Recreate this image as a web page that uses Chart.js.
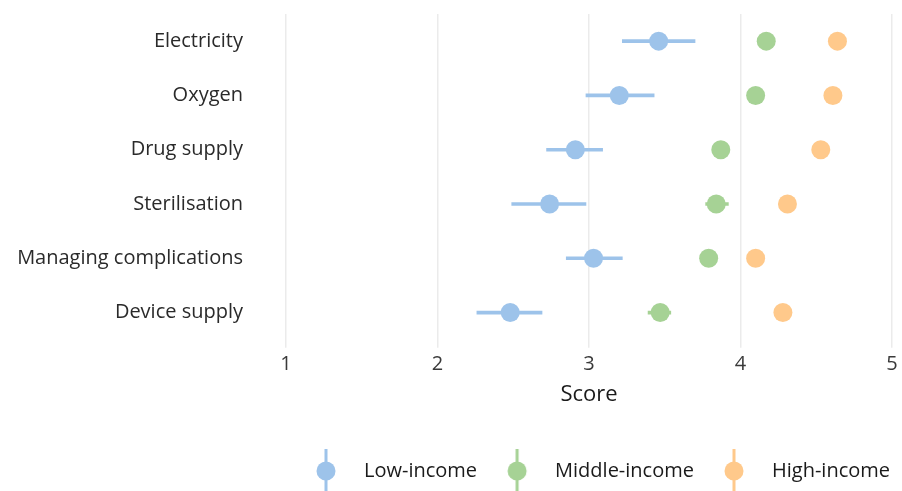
<!DOCTYPE html>
<html>
<head>
<meta charset="utf-8">
<script src="https://cdn.jsdelivr.net/npm/chart.js@4/dist/chart.umd.min.js"></script>
<style>
  html, body { margin: 0; padding: 0; background: #fff; }
  #wrap { width: 902px; height: 491px; }
</style>
</head>
<body>
<div id="wrap"><canvas id="c" width="902" height="491"></canvas></div>
<script>
// Facility domains (top to bottom)
const categories = ['Electricity', 'Oxygen', 'Drug supply', 'Sterilisation', 'Managing complications', 'Device supply'];

// Mean scores by income group
const lowIncome    = [3.46, 3.20, 2.91, 2.74, 3.03, 2.48];
const middleIncome = [4.17, 4.10, 3.87, 3.84, 3.79, 3.47];
const highIncome   = [4.64, 4.61, 4.53, 4.31, 4.10, 4.28];

// Confidence intervals (lower, upper); null where too narrow to show
const lowLower = [3.22, 2.98, 2.72, 2.49, 2.85, 2.26];
const lowUpper = [3.70, 3.43, 3.09, 2.98, 3.22, 2.69];
const midLower = [null, null, null, 3.77, null, 3.39];
const midUpper = [null, null, null, 3.92, null, 3.54];

const xTicks = [1, 2, 3, 4, 5];
const seriesNames = ['Low-income', 'Middle-income', 'High-income'];
const colors = ['#9dc3ea', '#a6d295', '#ffc98b'];

const FONT = '"Open Sans", "Noto Sans", sans-serif';

function ranges(lo, hi) {
  return lo.map((v, i) => (v == null || hi[i] == null) ? null : [v, hi[i]]);
}

// Legend glyph: a dot with a vertical interval line through it
function legendGlyph(color) {
  const c = document.createElement('canvas');
  c.width = 24; c.height = 44;
  const g = c.getContext('2d');
  g.fillStyle = color;
  g.fillRect(10.5, 0, 3, 44);
  g.beginPath();
  g.arc(12, 22, 9.5, 0, Math.PI * 2);
  g.fill();
  return c;
}
const glyphs = colors.map(legendGlyph);

const errorBar = (data, color) => ({
  type: 'bar',
  data: data,
  backgroundColor: color,
  borderWidth: 0,
  borderSkipped: false,
  barThickness: 3,
  grouped: false,
  indexAxis: 'y',
  xAxisID: 'x', yAxisID: 'y',
  order: 5,
  isInterval: true
});

const dots = (label, data, color) => ({
  type: 'line',
  label: label,
  data: data,
  showLine: false,
  indexAxis: 'y',
  xAxisID: 'x', yAxisID: 'y',
  pointRadius: 9.5,
  pointHoverRadius: 9.5,
  pointBackgroundColor: color,
  pointBorderWidth: 0,
  borderColor: color,
  backgroundColor: color,
  order: 1
});

new Chart(document.getElementById('c'), {
  data: {
    labels: categories,
    datasets: [
      errorBar(ranges(lowLower, lowUpper), colors[0]),
      errorBar(ranges(midLower, midUpper), colors[1]),
      dots(seriesNames[0], lowIncome, colors[0]),
      dots(seriesNames[1], middleIncome, colors[1]),
      dots(seriesNames[2], highIncome, colors[2])
    ]
  },
  options: {
    indexAxis: 'y',
    responsive: false,
    animation: false,
    layout: { padding: { top: 14, right: 0, bottom: 0, left: 0 } },
    scales: {
      x: {
        type: 'linear',
        position: 'bottom',
        min: 1, max: 5,
        afterBuildTicks: (s) => { s.ticks = xTicks.map(v => ({ value: v })); },
        grid: { color: '#ebebeb', lineWidth: 1.5, drawTicks: true, tickLength: 8, tickColor: '#ebebeb' },
        border: { display: false },
        ticks: { font: { family: FONT, size: 20 }, color: '#3a3a3a', padding: 4.3 },
        title: {
          display: true, text: 'Score',
          font: { family: FONT, size: 22 }, color: '#1a1a1a',
          padding: { top: 1.3, bottom: 41 }
        }
      },
      y: {
        type: 'category',
        position: 'left',
        offset: true,
        // invisible tick marks provide the gap between labels and plot
        grid: { display: true, drawOnChartArea: false, drawTicks: true, tickLength: 43, tickColor: 'rgba(0,0,0,0)' },
        border: { display: false },
        ticks: { font: { family: FONT, size: 20 }, color: '#2a2a2a', padding: 0 },
        afterFit: (s) => { s.width = 286; }
      },
      yRight: {
        type: 'category',
        position: 'right',
        grid: { display: false, drawTicks: false },
        border: { display: false },
        ticks: { display: false },
        afterFit: (s) => { s.width = 10; }
      }
    },
    plugins: {
      tooltip: { enabled: false },
      legend: {
        position: 'bottom',
        align: 'end',
        labels: {
          usePointStyle: true,
          pointStyleWidth: 56,
          padding: 12,
          color: '#1a1a1a',
          font: { family: FONT, size: 20 },
          filter: (item, data) => !data.datasets[item.datasetIndex].isInterval,
          generateLabels: (chart) => {
            const items = Chart.defaults.plugins.legend.labels.generateLabels(chart);
            return items.map(it => {
              const idx = seriesNames.indexOf(it.text);
              if (idx >= 0) it.pointStyle = glyphs[idx];
              return it;
            });
          }
        }
      }
    }
  }
});
</script>
</body>
</html>
